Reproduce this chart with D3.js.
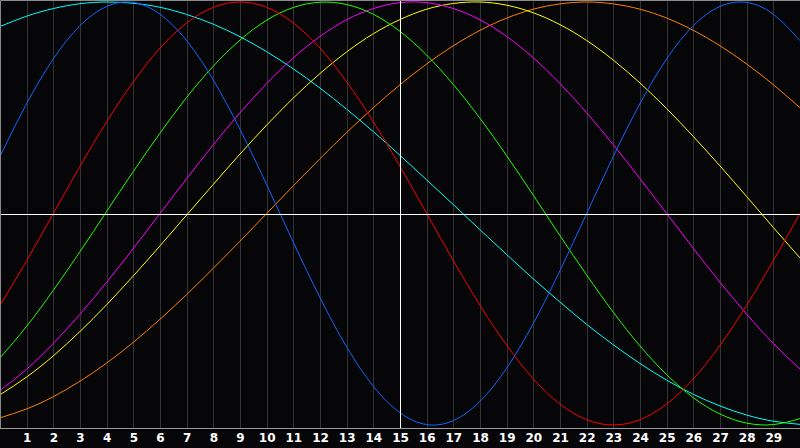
<!DOCTYPE html>
<html>
<head>
<meta charset="UTF-8">
<title>Biorhythm</title>
<script src="https://d3js.org/d3.v7.min.js"></script>
<style>
  html, body { margin: 0; padding: 0; background: #060609; }
  svg { display: block; }
</style>
</head>
<body>
<svg width="800" height="448"></svg>
<script>
// days 0..30
const days = [0,1,2,3,4,5,6,7,8,9,10,11,12,13,14,15,16,17,18,19,20,21,22,23,24,25,26,27,28,29,30];
const tickLabels = [1,2,3,4,5,6,7,8,9,10,11,12,13,14,15,16,17,18,19,20,21,22,23,24,25,26,27,28,29];
const today = 15;

// values, one per day (-1..1)
const physical = [0.270,0.520,0.731,0.888,0.979,0.998,0.942,0.817,0.631,0.398,0.136,-0.136,-0.398,-0.631,-0.817,-0.942,-0.998,-0.979,-0.888,-0.731,-0.520,-0.270,0.000,0.270,0.520,0.731,0.888,0.979,0.998,0.942,0.817];
const emotional = [-0.434,-0.223,0.000,0.223,0.434,0.623,0.782,0.901,0.975,1.000,0.975,0.901,0.782,0.623,0.434,0.223,0.000,-0.223,-0.434,-0.623,-0.782,-0.901,-0.975,-1.000,-0.975,-0.901,-0.782,-0.623,-0.434,-0.223,0.000];
const intellectual = [-0.683,-0.533,-0.363,-0.180,0.010,0.199,0.380,0.549,0.697,0.820,0.914,0.974,0.999,0.988,0.942,0.861,0.749,0.610,0.450,0.273,0.086,-0.105,-0.291,-0.467,-0.626,-0.762,-0.871,-0.948,-0.991,-0.998,-0.970];
const intuitive = [-0.837,-0.736,-0.614,-0.476,-0.325,-0.165,0.000,0.165,0.325,0.476,0.614,0.736,0.837,0.916,0.969,0.997,0.997,0.969,0.916,0.837,0.736,0.614,0.476,0.325,0.165,0.000,-0.165,-0.325,-0.476,-0.614,-0.736];
const aesthetic = [-0.857,-0.773,-0.673,-0.558,-0.431,-0.295,-0.153,-0.007,0.138,0.281,0.418,0.546,0.662,0.764,0.850,0.917,0.966,0.993,1.000,0.985,0.949,0.893,0.818,0.725,0.617,0.496,0.364,0.225,0.080,-0.066,-0.210];
const awareness = [-0.966,-0.924,-0.866,-0.793,-0.707,-0.609,-0.500,-0.383,-0.259,-0.131,0.000,0.131,0.259,0.383,0.500,0.609,0.707,0.793,0.866,0.924,0.966,0.991,1.000,0.991,0.966,0.924,0.866,0.793,0.707,0.609,0.500];
const spiritual = [0.884,0.933,0.969,0.992,1.000,0.994,0.975,0.941,0.895,0.836,0.765,0.684,0.593,0.493,0.387,0.275,0.159,0.042,-0.077,-0.194,-0.309,-0.419,-0.524,-0.621,-0.709,-0.788,-0.855,-0.910,-0.953,-0.982,-0.997];

const series = [
  { name: 'spiritual', values: spiritual, color: '#00ffff' },
  { name: 'awareness', values: awareness, color: '#ff8000' },
  { name: 'aesthetic', values: aesthetic, color: '#ffff00' },
  { name: 'intuitive', values: intuitive, color: '#ff00ff' },
  { name: 'intellectual', values: intellectual, color: '#22ff00' },
  { name: 'emotional', values: emotional, color: '#ff0000' },
  { name: 'physical', values: physical, color: '#1464ff' }
];

const svg = d3.select('svg');
const W = 800, bottom = 428;

const x = d3.scaleLinear().domain([0, 30]).range([0, W]);
const y = d3.scaleLinear().domain([-1, 1]).range([425, 2]);

svg.append('rect').attr('width', W).attr('height', 448).attr('fill', '#060609');

// day grid
svg.append('g').selectAll('line')
  .data(tickLabels)
  .enter().append('line')
  .attr('x1', d => Math.round(x(d)) + 0.5)
  .attr('x2', d => Math.round(x(d)) + 0.5)
  .attr('y1', 0).attr('y2', bottom)
  .attr('stroke', '#333336');

// curves
const line = d3.line()
  .x((d, i) => x(days[i]))
  .y(d => y(d))
  .curve(d3.curveNatural);

svg.append('g').selectAll('path')
  .data(series)
  .enter().append('path')
  .attr('d', d => line(d.values))
  .attr('fill', 'none')
  .attr('stroke', d => d.color)
  .attr('stroke-width', 1);

// zero line and today marker
svg.append('line')
  .attr('x1', 0).attr('x2', W)
  .attr('y1', Math.round(y(0)) + 0.5).attr('y2', Math.round(y(0)) + 0.5)
  .attr('stroke', '#ffffff');

svg.append('line')
  .attr('x1', Math.round(x(today)) + 0.5).attr('x2', Math.round(x(today)) + 0.5)
  .attr('y1', 0).attr('y2', bottom)
  .attr('stroke', '#ffffff');

// frame
svg.append('path')
  .attr('d', `M0.5,${bottom + 0.5}V0.5H${W}`)
  .attr('fill', 'none')
  .attr('stroke', '#8a8a8a');
svg.append('line')
  .attr('x1', 0).attr('x2', W)
  .attr('y1', bottom + 0.5).attr('y2', bottom + 0.5)
  .attr('stroke', '#9a9a9a');

// labels
const axis = d3.axisBottom(x)
  .tickValues(tickLabels)
  .tickSize(0)
  .tickPadding(5)
  .tickFormat(d3.format('d'));

const gx = svg.append('g')
  .attr('transform', `translate(0,${bottom})`)
  .call(axis);
gx.select('.domain').remove();
gx.selectAll('text')
  .attr('fill', '#ffffff')
  .style('font-family', '"DejaVu Sans", sans-serif')
  .style('font-weight', 'bold')
  .style('font-size', '12px');
</script>
</body>
</html>
